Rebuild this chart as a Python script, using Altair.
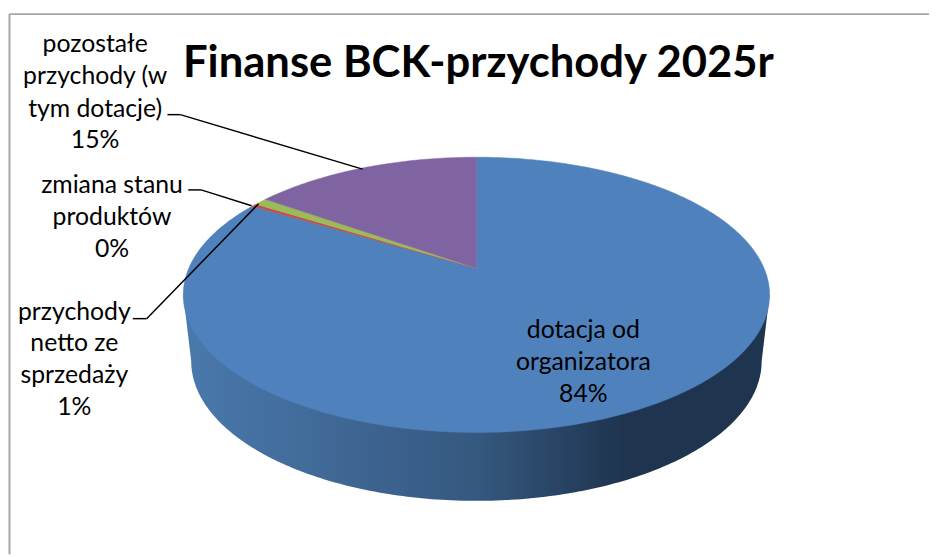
import math
import altair as alt
import pandas as pd

# Data
categories = ["dotacja od organizatora", "zmiana stanu produktów", "przychody netto ze sprzedaży", "pozostałe przychody (w tym dotacje)"]
shares = [83.6, 0.35, 0.85, 15.2]
colors = ["#4f81bd", "#c0504d", "#9bbb59", "#8064a2"]

W, H, M = 930, 549, 8
FONT = "Lato"
CX, CY, K, A, B = 481.0, 268.0, 0.194, 290.4, 133.75
xs = alt.Scale(domain=[M, M + W])
ys = alt.Scale(domain=[M, M + H], reverse=True)


def px(x):
    return x - M


def py(y):
    return y - M


def project(pct):
    t = math.radians(pct * 3.6)
    u, v = math.sin(t), math.cos(t)
    w = 1 + K * v
    return CX + A * u / w, CY - B * v / w


def X():
    return alt.X("x:Q", scale=xs, axis=None)


def Y():
    return alt.Y("y:Q", scale=ys, axis=None)


# side wall
wall_rows = [{"x": 185, "y": 295, "y2": 295}]
for i in range(181):
    phi = math.radians(180 - i)
    wall_rows.append({"x": 481 + 288 * math.cos(phi), "y": 362 + 141 * math.sin(phi), "y2": 295})
wall_rows.append({"x": 777, "y": 295, "y2": 295})
wall = alt.Chart(pd.DataFrame(wall_rows)).mark_area(
    fill=alt.Gradient(
        gradient="linear", x1=0, x2=1, y1=0, y2=0,
        stops=[
            alt.GradientStop(offset=0, color="#4a79ad"),
            alt.GradientStop(offset=0.5, color="#35587f"),
            alt.GradientStop(offset=0.75, color="#1f344f"),
            alt.GradientStop(offset=1, color="#1f344f"),
        ],
    )
).encode(x=X(), y=Y(), y2="y2:Q")

# top face
layers = [wall]
start = 0.0
for cat, share, col in zip(categories, shares, colors):
    rows = [{"x": CX, "y": CY, "o": 0}]
    n = max(2, int(share * 4))
    for i in range(n + 1):
        qx, qy = project(start + share * i / n)
        rows.append({"x": qx, "y": qy, "o": i + 1})
    rows.append({"x": CX, "y": CY, "o": n + 2})
    layers.append(
        alt.Chart(pd.DataFrame(rows)).mark_line(fill=col, stroke=col, strokeWidth=0.5).encode(
            x=X(), y=Y(), order="o:Q"
        )
    )
    start += share


def rule(x1, y1, x2, y2, color="#000000", sw=1.5):
    return alt.Chart(pd.DataFrame({"a": [0]})).mark_rule(color=color, strokeWidth=sw).encode(
        x=alt.value(px(x1)), y=alt.value(py(y1)), x2=alt.value(px(x2)), y2=alt.value(py(y2))
    )


def text(s, x, y, size=25, bold=False):
    return alt.Chart(pd.DataFrame({"t": [s]})).mark_text(
        font=FONT, fontSize=size, fontWeight="bold" if bold else "normal",
        color="#000000", align="center", baseline="middle",
    ).encode(x=alt.value(px(x)), y=alt.value(py(y)), text="t:N")


# leaders
leaders = [
    (169, 113, 182, 113), (182, 113, 366, 168),
    (190, 189, 203, 189), (203, 189, 254, 205),
    (134, 319, 148, 319), (148, 319, 261, 203),
]
layers += [rule(*l) for l in leaders]

# frame
layers += [
    rule(9.5, 11.5, 938, 11.5, "#a6a6a6", 2),
    rule(9.5, 11.5, 9.5, 557, "#a6a6a6", 2),
]

# text
labels = [
    ("pozostałe", 96, 42), ("przychody (w", 96, 74), ("tym dotacje)", 96, 107), ("15%", 96, 139),
    ("zmiana stanu", 113, 184), ("produktów", 113, 216), ("0%", 113, 249),
    ("przychody", 75, 312), ("netto ze", 75, 344), ("sprzedaży", 75, 376), ("1%", 75, 408),
    ("dotacja od", 589, 331), ("organizatora", 589, 363), ("84%", 589, 395),
]
layers += [text(*l) for l in labels]
layers.append(text("Finanse BCK-przychody 2025r", 483, 62, size=44, bold=True))

chart = alt.layer(*layers).properties(
    width=W, height=H, padding=0, background="#ffffff"
).configure_view(stroke=None)

chart.save("out.html", embed_options={"renderer": "svg", "actions": False})
